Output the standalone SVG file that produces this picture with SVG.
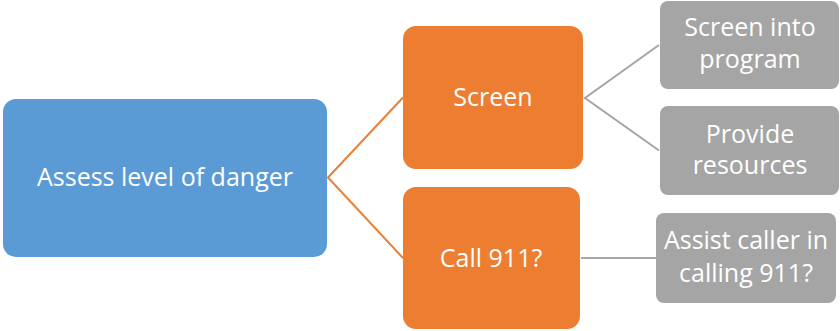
<svg xmlns="http://www.w3.org/2000/svg" width="840" height="331" viewBox="0 0 840 331">
  <style>
    .lbl { font-family: "Open Sans", "Liberation Sans", sans-serif; font-size: 25px; fill: #ffffff; text-anchor: middle; }
    .root { fill: #5B9BD5; }
    .mid { fill: #ED7D31; }
    .leaf { fill: #A5A5A5; }
    .c-orange { stroke: #ED7D31; stroke-width: 2; fill: none; }
    .c-gray { stroke: #A5A5A5; stroke-width: 2; fill: none; }
  </style>
  <rect width="840" height="331" fill="#ffffff"/>

  <g id="connectors">
    <polyline class="c-orange" points="403,97.5 328,177.5 403,258"/>
    <polyline class="c-gray" points="659,45 585,98 659,150.5"/>
    <line class="c-gray" x1="581" y1="258" x2="656" y2="258"/>
  </g>

  <g id="assess">
    <rect class="root" x="3" y="99" width="324" height="158" rx="13"/>
    <text class="lbl" x="165" y="186">Assess level of danger</text>
  </g>

  <g id="screen">
    <rect class="mid" x="403" y="26" width="180" height="143" rx="13"/>
    <text class="lbl" x="493" y="106">Screen</text>
  </g>

  <g id="call911">
    <rect class="mid" x="403" y="187" width="177" height="142" rx="13"/>
    <text class="lbl" x="491" y="267">Call 911?</text>
  </g>

  <g id="screen-into-program">
    <rect class="leaf" x="660" y="1" width="179" height="88" rx="8"/>
    <text class="lbl" x="750" y="36">Screen into</text>
    <text class="lbl" x="750" y="68">program</text>
  </g>

  <g id="provide-resources">
    <rect class="leaf" x="660" y="106" width="179" height="89" rx="8"/>
    <text class="lbl" x="750" y="143">Provide</text>
    <text class="lbl" x="750" y="174">resources</text>
  </g>

  <g id="assist-caller">
    <rect class="leaf" x="656" y="213" width="180" height="90" rx="8"/>
    <text class="lbl" x="746" y="249">Assist caller in</text>
    <text class="lbl" x="746" y="282">calling 911?</text>
  </g>
</svg>
